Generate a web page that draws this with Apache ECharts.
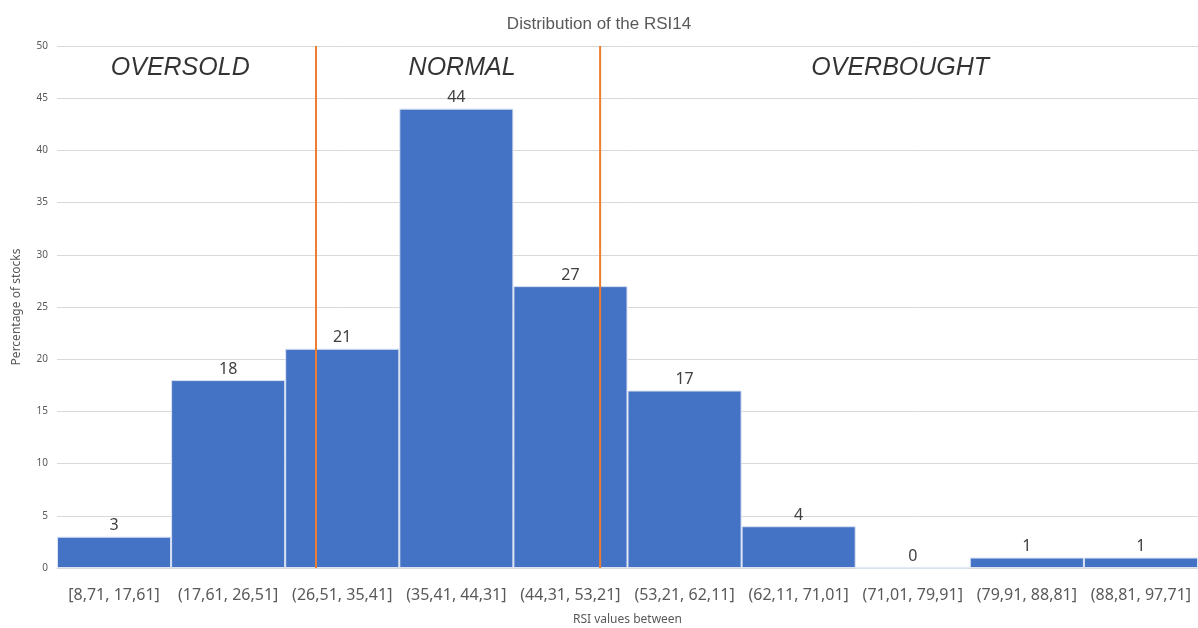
<!DOCTYPE html>
<html>
<head>
<meta charset="utf-8">
<script src="https://cdn.jsdelivr.net/npm/echarts@6/dist/echarts.min.js"></script>
<style>
  html, body { margin: 0; padding: 0; background: #fff; }
  #main { width: 1198px; height: 628px; }
</style>
</head>
<body>
<div id="main"></div>
<script>
// bins of the RSI14 and percentage of stocks in each
var categories = ['[8,71, 17,61]', '(17,61, 26,51]', '(26,51, 35,41]', '(35,41, 44,31]', '(44,31, 53,21]',
  '(53,21, 62,11]', '(62,11, 71,01]', '(71,01, 79,91]', '(79,91, 88,81]', '(88,81, 97,71]'];
var percentages = [3, 18, 21, 44, 27, 17, 4, 0, 1, 1];
var yTicks = { min: 0, max: 50, interval: 5 };

// zone separators, in bin units counted from the left edge of the first bin
var zoneLines = [2.27, 4.76];
// zone titles: [position in bin units, height in %, text]
var zoneNames = [[1.08, 47.9, 'OVERSOLD'], [3.55, 47.9, 'NORMAL'], [7.39, 47.9, 'OVERBOUGHT']];

var chartDom = document.getElementById('main');
var myChart = echarts.init(chartDom);

var lineData = [];
zoneLines.forEach(function (x) {
  lineData.push([x, yTicks.min], [x, yTicks.max], null);
});

var option = {
  animation: false,
  title: {
    text: 'Distribution of the RSI14',
    left: 'center',
    top: 11,
    textStyle: { color: '#595959', fontSize: 17, fontWeight: 'normal', fontFamily: 'Liberation Sans' }
  },
  grid: { left: 57, right: 0, top: 46, bottom: 60, containLabel: false, outerBoundsMode: 'none' },
  xAxis: [
    {
      type: 'category',
      data: categories,
      name: 'RSI values between',
      nameLocation: 'middle',
      nameGap: 46,
      nameTextStyle: { color: '#595959', fontSize: 12, fontFamily: 'Noto Sans' },
      axisLine: { lineStyle: { color: '#d9d9d9' } },
      axisTick: { show: false },
      axisLabel: { interval: 0, margin: 19, color: '#595959', fontSize: 16, fontFamily: 'Noto Sans' }
    },
    {
      type: 'value',
      min: 0,
      max: categories.length,
      show: false
    }
  ],
  yAxis: {
    type: 'value',
    min: yTicks.min,
    max: yTicks.max,
    interval: yTicks.interval,
    name: 'Percentage of stocks',
    nameLocation: 'middle',
    nameGap: 34,
    nameTextStyle: { color: '#595959', fontSize: 12, fontFamily: 'Noto Sans' },
    axisLine: { show: false },
    axisTick: { show: false },
    axisLabel: { color: '#595959', fontSize: 10, margin: 9, fontFamily: 'Noto Sans' },
    splitLine: { lineStyle: { color: '#d9d9d9' } }
  },
  series: [
    {
      type: 'bar',
      data: percentages,
      barWidth: '100%',
      itemStyle: { color: '#4472c4', borderColor: '#dae3f3', borderWidth: 1 },
      label: {
        show: true,
        position: 'top',
        distance: 3,
        color: '#404040',
        fontSize: 16,
        fontFamily: 'Noto Sans'
      }
    },
    {
      type: 'line',
      xAxisIndex: 1,
      data: lineData,
      symbol: 'none',
      connectNulls: false,
      lineStyle: { color: '#ed7d31', width: 2 },
      z: 5
    },
    {
      type: 'scatter',
      xAxisIndex: 1,
      data: zoneNames,
      symbolSize: 0,
      label: {
        show: true,
        position: 'inside',
        formatter: function (p) { return p.value[2]; },
        color: '#000',
        fontSize: 25,
        fontStyle: 'italic',
        fontFamily: 'Liberation Sans'
      },
      z: 6
    }
  ]
};
option && myChart.setOption(option);
</script>
</body>
</html>
